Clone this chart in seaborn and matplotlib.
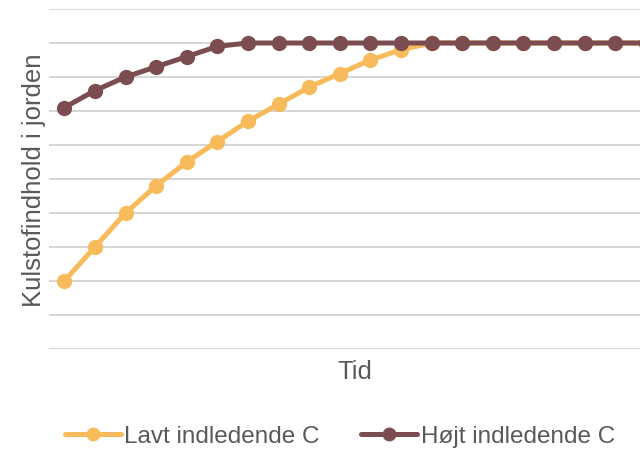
import matplotlib
matplotlib.use("Agg")
import matplotlib.pyplot as plt
import seaborn as sns
import pandas as pd

# Soil carbon over time for two starting levels (grid units, 0-10)
time_steps = list(range(20))
low_start = [2.0, 3.0, 4.0, 4.8, 5.5, 6.1, 6.7, 7.2, 7.7, 8.1,
             8.5, 8.8, 9.0, 9.0, 9.0, 9.0, 9.0, 9.0, 9.0, 9.0]
high_start = [7.1, 7.6, 8.0, 8.3, 8.6, 8.9, 9.0, 9.0, 9.0, 9.0,
              9.0, 9.0, 9.0, 9.0, 9.0, 9.0, 9.0, 9.0, 9.0, 9.0]
series_names = ["Lavt indledende C", "Højt indledende C"]
series_colors = ["#F8BB5C", "#7C4D50"]

sns.set_theme(style="white")
plt.rcParams["font.family"] = ["Liberation Sans", "DejaVu Sans"]
text_color = "#595959"

df = pd.DataFrame({
    "Tid": time_steps * 2,
    "C": low_start + high_start,
    "serie": [series_names[0]] * len(time_steps) + [series_names[1]] * len(time_steps),
})

fig = plt.figure(figsize=(6.4, 4.52), dpi=100)
ax = fig.add_axes([49 / 640, 102 / 452, 612 / 640, 340 / 452])

sns.lineplot(
    data=df, x="Tid", y="C", hue="serie", style="serie",
    palette=dict(zip(series_names, series_colors)),
    markers={series_names[0]: "o", series_names[1]: "o"},
    dashes=False, linewidth=3.6, markersize=11, markeredgewidth=0,
    ax=ax, legend=True, zorder=3,
)

ax.set_xlim(-0.5, len(time_steps) - 0.5)
ax.set_ylim(0, 10)
ax.set_yticks(range(0, 11))
ax.set_xticks([])
ax.set_yticklabels([])
ax.tick_params(axis="both", length=0)
ax.grid(axis="y", color="#D6D6D6", linewidth=1.4)
ax.grid(axis="x", visible=False)
for sp in ax.spines.values():
    sp.set_visible(False)

ax.set_ylabel("Kulstofindhold i jorden", fontsize=18.5, color=text_color, labelpad=-1)
ax.set_xlabel("Tid", fontsize=18.5, color=text_color, labelpad=7)

handles, labels = ax.get_legend_handles_labels()
ax.get_legend().remove()
for h in handles:
    h.set_linewidth(3.6)
    h.set_markersize(10)
    h.set_markeredgewidth(0)
leg = fig.legend(
    handles, labels, loc="center", bbox_to_anchor=(340 / 640, 15 / 452),
    ncol=2, frameon=False, fontsize=17.5, handlelength=2.3,
    handletextpad=0.15, columnspacing=1.7, labelcolor=text_color,
)

fig.savefig("out.png", dpi=100)
